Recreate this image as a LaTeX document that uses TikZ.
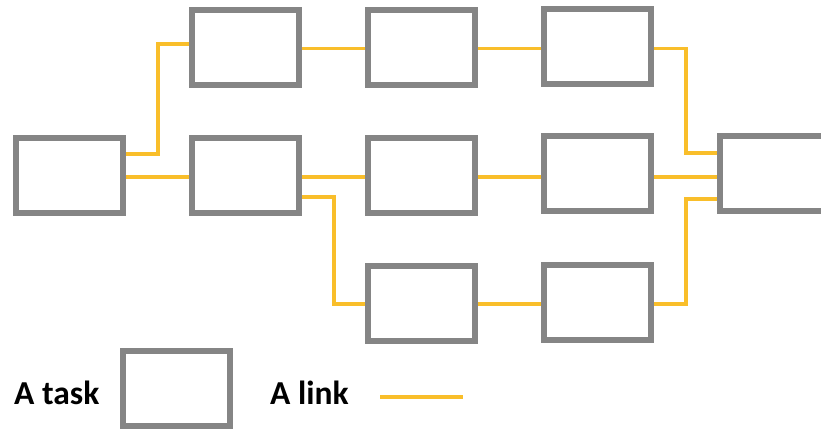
\documentclass[tikz,border=0pt]{standalone}
\usepackage{fontspec}
\setmainfont{Carlito}
\definecolor{boxgray}{HTML}{858585}
\definecolor{linkyel}{HTML}{F9BE2A}
\begin{document}
\begin{tikzpicture}[x=1pt,y=-1pt,
  task/.style={draw=boxgray,line width=6pt,fill=white,minimum width=107pt,minimum height=75pt,inner sep=0pt},
  link/.style={draw=linkyel,line width=3.2pt},
  lbl/.style={font=\fontsize{33.5}{36}\selectfont\bfseries,anchor=base west,inner sep=0pt}]
\useasboundingbox (0,0) rectangle (821,428);
\node[task] (L)  at (69.5,175.5) {};
\node[task] (A1) at (245.5,47.5) {};
\node[task] (A2) at (421.5,47.5) {};
\node[task] (A3) at (597.5,46.5) {};
\node[task] (B1) at (245.5,175.5) {};
\node[task] (B2) at (421.5,175) {};
\node[task] (B3) at (597.5,173.5) {};
\node[task] (R)  at (773.5,173.5) {};
\node[task] (C1) at (421.5,303) {};
\node[task] (C2) at (597.5,302) {};
\node[task] (T)  at (176,388) {};
\coordinate (m1) at (158,100);
\coordinate (m2) at (334,250);
\coordinate (m3) at (686,100);
\coordinate (m4) at (686,250);
\draw[link] (L.east |- 0,154) -| (m1) |- (A1.west |- 0,44);
\draw[link] (L.east |- 0,177) -- (B1.west |- 0,177);
\draw[link] (A1.east |- 0,48.5) -- (A2.west |- 0,48.5);
\draw[link] (A2.east |- 0,48.5) -- (A3.west |- 0,48.5);
\draw[link] (A3.east |- 0,48.5) -| (m3) |- (R.west |- 0,153);
\draw[link] (B1.east |- 0,177) -- (B2.west |- 0,177);
\draw[link] (B2.east |- 0,177) -- (B3.west |- 0,177);
\draw[link] (B3.east |- 0,177) -- (R.west |- 0,177);
\draw[link] (B1.east |- 0,197) -| (m2) |- (C1.west |- 0,304);
\draw[link] (C1.east |- 0,304) -- (C2.west |- 0,304);
\draw[link] (C2.east |- 0,304) -| (m4) |- (R.west |- 0,199);
% legend
\node[lbl] (lt) at (14,404) {A task};
\node[lbl] (ll) at (270,404) {A link};
\coordinate (la) at (380,397);
\coordinate (lb) at (463,397);
\draw[link] (la) -- (lb);
\end{tikzpicture}
\end{document}
